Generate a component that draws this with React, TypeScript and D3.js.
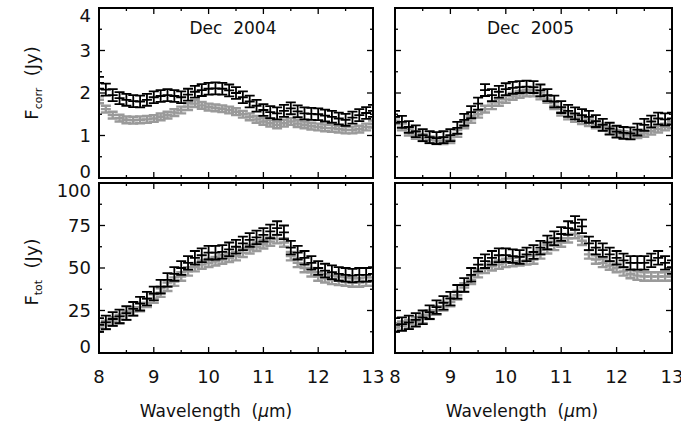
import React from "react";
import * as d3 from "d3";

const wavelengths = [8.0,8.125,8.25,8.375,8.5,8.625,8.75,8.875,9.0,9.125,9.25,9.375,9.5,9.625,9.75,9.875,10.0,10.125,10.25,10.375,10.5,10.625,10.75,10.875,11.0,11.125,11.25,11.375,11.5,11.625,11.75,11.875,12.0,12.125,12.25,12.375,12.5,12.625,12.75,12.875,13.0];

const corr2004Black = [2.24,2.08,1.95,1.88,1.84,1.81,1.80,1.84,1.90,1.93,1.95,1.93,1.90,1.96,2.03,2.07,2.10,2.11,2.10,2.06,2.00,1.90,1.80,1.70,1.60,1.55,1.52,1.58,1.64,1.57,1.52,1.51,1.50,1.47,1.44,1.40,1.37,1.42,1.48,1.53,1.58];
const corr2004Gray = [1.84,1.62,1.48,1.41,1.37,1.36,1.37,1.38,1.40,1.44,1.48,1.54,1.60,1.68,1.75,1.71,1.67,1.65,1.63,1.60,1.56,1.50,1.44,1.38,1.33,1.29,1.25,1.29,1.33,1.28,1.25,1.22,1.20,1.18,1.17,1.15,1.13,1.13,1.15,1.20,1.27];
const corr2005Black = [1.44,1.32,1.20,1.10,1.01,0.96,0.94,0.96,1.01,1.18,1.37,1.55,1.75,2.07,1.95,2.03,2.09,2.12,2.14,2.15,2.14,2.06,1.95,1.80,1.67,1.58,1.52,1.48,1.44,1.34,1.25,1.16,1.09,1.06,1.05,1.14,1.25,1.33,1.40,1.38,1.40];
const corr2005Gray = [1.35,1.20,1.08,1.00,0.95,0.90,0.88,0.88,0.90,1.05,1.25,1.38,1.50,1.62,1.70,1.78,1.85,1.92,1.97,2.00,2.00,1.93,1.85,1.70,1.55,1.46,1.40,1.35,1.30,1.25,1.20,1.12,1.05,1.02,1.00,1.02,1.05,1.10,1.15,1.20,1.25];
const tot2004Black = [16.5,18.0,20.0,21.5,23.5,26.0,29.0,32.0,35.0,39.0,43.0,46.5,50.0,53.0,56.0,57.5,59.0,59.0,59.5,61.0,62.5,64.5,66.5,68.0,69.5,71.5,73.5,71.0,62.0,59.0,56.0,53.0,50.0,48.5,47.5,46.5,46.0,45.5,46.0,46.0,46.5];
const tot2004Gray = [15.0,16.5,18.5,20.0,22.0,24.5,27.0,29.5,32.0,35.5,39.0,42.0,45.0,48.0,50.5,52.0,53.0,54.0,55.0,56.0,57.0,59.0,61.0,62.5,64.0,65.5,67.0,65.0,57.0,53.0,50.0,47.5,45.0,44.0,43.0,42.5,42.0,41.5,41.5,42.0,42.0];
const tot2005Black = [16.5,17.0,18.0,19.5,21.0,24.0,27.0,29.5,32.0,36.0,40.0,46.0,52.0,54.0,56.0,57.5,57.6,57.0,56.5,58.0,59.4,62.0,65.0,67.5,70.0,73.5,76.5,74.5,64.5,62.0,60.5,58.0,56.0,54.5,53.0,53.0,53.0,54.5,56.0,53.0,50.5];
const tot2005Gray = [15.0,16.0,17.0,18.5,20.0,22.5,25.0,27.5,30.0,34.0,38.5,43.0,47.0,49.5,51.0,52.0,53.0,53.5,54.0,54.5,55.0,58.0,61.0,63.0,65.0,67.5,70.0,66.0,58.0,55.0,53.0,51.5,50.0,48.0,46.5,45.5,45.0,45.0,45.0,45.0,45.0];

// error half-widths: [gray, black]
const corrErrors = [0.08, 0.14];
const totErrors = [2.5, 4.0];

const xTickValues = [8, 9, 10, 11, 12, 13];
const corrTickValues = [0, 1, 2, 3, 4];
const totTickValues = [0, 25, 50, 75, 100];
const panelTitles = ["Dec  2004", "Dec  2005"];

const FONT = "'DejaVu Sans', sans-serif";

type PanelProps = {
  id: string;
  x0: number; x1: number; y0: number; y1: number;
  yDomain: [number, number];
  yMajor: number[]; yMinorStep: number;
  gray: number[]; black: number[]; errs: number[];
  showYLabels: boolean; showXLabels: boolean; title?: string;
};

function Panel(p: PanelProps) {
  const xs = d3.scaleLinear().domain([8, 13]).range([p.x0, p.x1]);
  const ys = d3.scaleLinear().domain(p.yDomain).range([p.y1, p.y0]);
  const xMinor = d3.range(8, 13.0001, 0.5);
  const yMinor = d3.range(p.yDomain[0], p.yDomain[1] + 1e-6, p.yMinorStep);
  const isMajorX = (v: number) => Math.abs(v - Math.round(v)) < 1e-6;
  const isMajorY = (v: number) => p.yMajor.some((m) => Math.abs(m - v) < 1e-6);
  const cap = 5;
  const series = [
    { vals: p.gray, err: p.errs[0], color: "#9a9a9a", sw: 2.4 },
    { vals: p.black, err: p.errs[1], color: "#000", sw: 1.8 },
  ];
  return (
    <g>
      <defs>
        <clipPath id={p.id}>
          <rect x={p.x0} y={p.y0} width={p.x1 - p.x0} height={p.y1 - p.y0} />
        </clipPath>
      </defs>
      <g clipPath={`url(#${p.id})`}>
        {series.map((s, si) => (
          <g key={si} stroke={s.color} strokeWidth={s.sw} fill="none">
            {wavelengths.map((w, i) => {
              const cx = xs(w);
              const lo = ys(s.vals[i] - s.err);
              const hi = ys(s.vals[i] + s.err);
              return (
                <path key={i} d={`M${cx},${lo}V${hi}M${cx - cap},${lo}H${cx + cap}M${cx - cap},${hi}H${cx + cap}M${cx - cap},${ys(s.vals[i])}H${cx + cap}`} />
              );
            })}
          </g>
        ))}
      </g>
      {xMinor.map((v, i) => {
        const len = isMajorX(v) ? 6 : 3;
        const x = xs(v);
        return (
          <g key={"xt" + i} stroke="#000" strokeWidth={1.3}>
            <line x1={x} x2={x} y1={p.y1} y2={p.y1 - len} />
            <line x1={x} x2={x} y1={p.y0} y2={p.y0 + len} />
          </g>
        );
      })}
      {yMinor.map((v, i) => {
        const len = isMajorY(v) ? 6 : 3;
        const y = ys(v);
        return (
          <g key={"yt" + i} stroke="#000" strokeWidth={1.3}>
            <line x1={p.x0} x2={p.x0 + len} y1={y} y2={y} />
            <line x1={p.x1} x2={p.x1 - len} y1={y} y2={y} />
          </g>
        );
      })}
      <rect x={p.x0} y={p.y0} width={p.x1 - p.x0} height={p.y1 - p.y0} fill="none" stroke="#000" strokeWidth={2} />
      {p.showYLabels &&
        p.yMajor.map((v, i) => {
          let y = ys(v);
          if (i === p.yMajor.length - 1) y += 8;
          if (i === 0) y -= 6;
          return (
            <text key={"yl" + i} x={p.x0 - 8} y={y} dy="0.36em" textAnchor="end" fontFamily={FONT} fontSize={18} fill="#111">
              {v}
            </text>
          );
        })}
      {p.showXLabels &&
        xTickValues.map((v, i) => (
          <text key={"xl" + i} x={xs(v)} y={p.y1 + 24} dy="0.36em" textAnchor="middle" fontFamily={FONT} fontSize={18} fill="#111">
            {v}
          </text>
        ))}
      {p.title && (
        <text x={(p.x0 + p.x1) / 2 - 3} y={p.y0 + 20} dy="0.36em" textAnchor="middle" fontFamily={FONT} fontSize={17} fill="#111" style={{ whiteSpace: "pre" }}>
          {p.title}
        </text>
      )}
    </g>
  );
}

export default function App() {
  const L = [99, 373];
  const R = [395, 672];
  const T = [8, 178];
  const B = [183, 353];
  return (
    <svg width={681} height={429} style={{ position: "absolute", left: 0, top: 0, background: "#fff" }}>
      <rect x={0} y={0} width={681} height={429} fill="#fff" />
      <Panel id="c1" x0={L[0]} x1={L[1]} y0={T[0]} y1={T[1]} yDomain={[0, 4]} yMajor={corrTickValues} yMinorStep={0.5}
        gray={corr2004Gray} black={corr2004Black} errs={corrErrors} showYLabels showXLabels={false} title={panelTitles[0]} />
      <Panel id="c2" x0={R[0]} x1={R[1]} y0={T[0]} y1={T[1]} yDomain={[0, 4]} yMajor={corrTickValues} yMinorStep={0.5}
        gray={corr2005Gray} black={corr2005Black} errs={corrErrors} showYLabels={false} showXLabels={false} title={panelTitles[1]} />
      <Panel id="c3" x0={L[0]} x1={L[1]} y0={B[0]} y1={B[1]} yDomain={[0, 100]} yMajor={totTickValues} yMinorStep={12.5}
        gray={tot2004Gray} black={tot2004Black} errs={totErrors} showYLabels showXLabels />
      <Panel id="c4" x0={R[0]} x1={R[1]} y0={B[0]} y1={B[1]} yDomain={[0, 100]} yMajor={totTickValues} yMinorStep={12.5}
        gray={tot2005Gray} black={tot2005Black} errs={totErrors} showYLabels={false} showXLabels />
      <text transform="translate(38,83) rotate(-90)" textAnchor="middle" fontFamily={FONT} fontSize={18} fill="#111" style={{ whiteSpace: "pre" }}>
        F<tspan fontSize={11} dy="4">corr</tspan><tspan dy="-4">  (Jy)</tspan>
      </text>
      <text transform="translate(38,272) rotate(-90)" textAnchor="middle" fontFamily={FONT} fontSize={18} fill="#111" style={{ whiteSpace: "pre" }}>
        F<tspan fontSize={11} dy="4">tot</tspan><tspan dy="-4">  (Jy)</tspan>
      </text>
      <text x={216} y={411} dy="0.36em" textAnchor="middle" fontFamily={FONT} fontSize={17} fill="#111" style={{ whiteSpace: "pre" }}>
        Wavelength  (<tspan fontStyle="italic">μ</tspan>m)
      </text>
      <text x={522} y={411} dy="0.36em" textAnchor="middle" fontFamily={FONT} fontSize={17} fill="#111" style={{ whiteSpace: "pre" }}>
        Wavelength  (<tspan fontStyle="italic">μ</tspan>m)
      </text>
    </svg>
  );
}
